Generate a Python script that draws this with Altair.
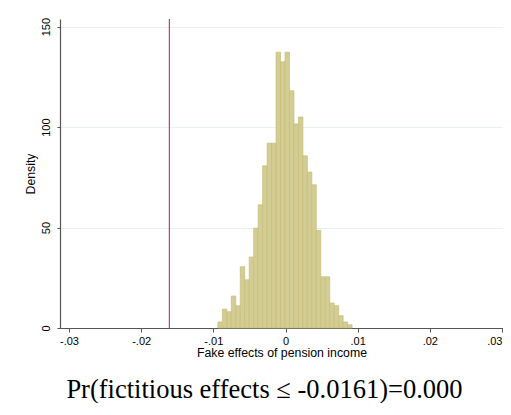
import altair as alt
import pandas as pd

# Histogram densities (30 bins)
densities = [3.0, 9.4, 8.1, 15.9, 11.1, 30.5, 24.0, 35.3, 49.7, 61.3,
             80.7, 92.0, 92.0, 137.3, 132.5, 137.3, 118.1, 101.6, 105.0, 85.7,
             77.6, 71.3, 48.6, 25.5, 25.5, 12.4, 11.1, 6.1, 3.0, 1.6]
bin_start = -0.00937
bin_width = 0.00062
actual_effect = [-0.0161]
x_ticks = [-0.03, -0.02, -0.01, 0.0, 0.01, 0.02, 0.03]
y_ticks = [0, 50, 100, 150]

df = pd.DataFrame({
    "x0": [bin_start + i * bin_width for i in range(len(densities))],
    "x1": [bin_start + (i + 1) * bin_width for i in range(len(densities))],
    "density": densities,
})
rule_df = pd.DataFrame({"x": actual_effect})

xscale = alt.Scale(domain=[-0.03125, 0.03014], nice=False, zero=False)
yscale = alt.Scale(domain=[0, 153.8], nice=False)

axis_common = dict(
    domainColor="#555555", domainWidth=1.2, tickColor="#555555", tickWidth=1,
    labelColor="black", titleColor="black", labelFont="Liberation Sans",
    titleFont="Liberation Sans", labelFontSize=11, titleFontSize=12.3,
    titleFontWeight="normal",
)

bars = alt.Chart(df).mark_bar(
    fill="#D3CD93", stroke="#C5BD7A", strokeWidth=0.7
).encode(
    x=alt.X("x0:Q", scale=xscale, axis=alt.Axis(
        values=x_ticks, grid=False, tickSize=4, labelPadding=3, titlePadding=0,
        labelFlush=2,
        title="Fake effects of pension income",
        labelExpr="datum.value == 0 ? '0' : (datum.value < 0 ? '-' : '') + '.0' + format(abs(round(datum.value*100)), 'd')",
        **axis_common)),
    x2="x1:Q",
    y=alt.Y("density:Q", scale=yscale, axis=alt.Axis(
        values=y_ticks, grid=True, gridColor="#E6EFF1", gridWidth=1,
        tickSize=3, labelAngle=270, labelAlign="center", labelBaseline="bottom",
        labelPadding=6, titlePadding=3, title="Density", **axis_common)),
    y2=alt.datum(0),
)

rule = alt.Chart(rule_df).mark_rule(color="#C8103C", strokeWidth=1).encode(
    x=alt.X("x:Q", scale=xscale)
)

chart = alt.layer(bars, rule).properties(
    width=443, height=309,
    padding={"left": 52, "top": 11, "right": 0, "bottom": 75},
    autosize=alt.AutoSizeParams(type="none"),
    background="white",
    title=alt.TitleParams(
        "Pr(fictitious effects \u2264 -0.0161)=0.000", orient="bottom",
        anchor="middle", font="Liberation Serif", fontSize=26.5,
        fontWeight="normal", color="black", dx=-17, offset=19),
).configure_view(stroke=None)

chart.save("out.html", embed_options={"renderer": "svg", "actions": False})
